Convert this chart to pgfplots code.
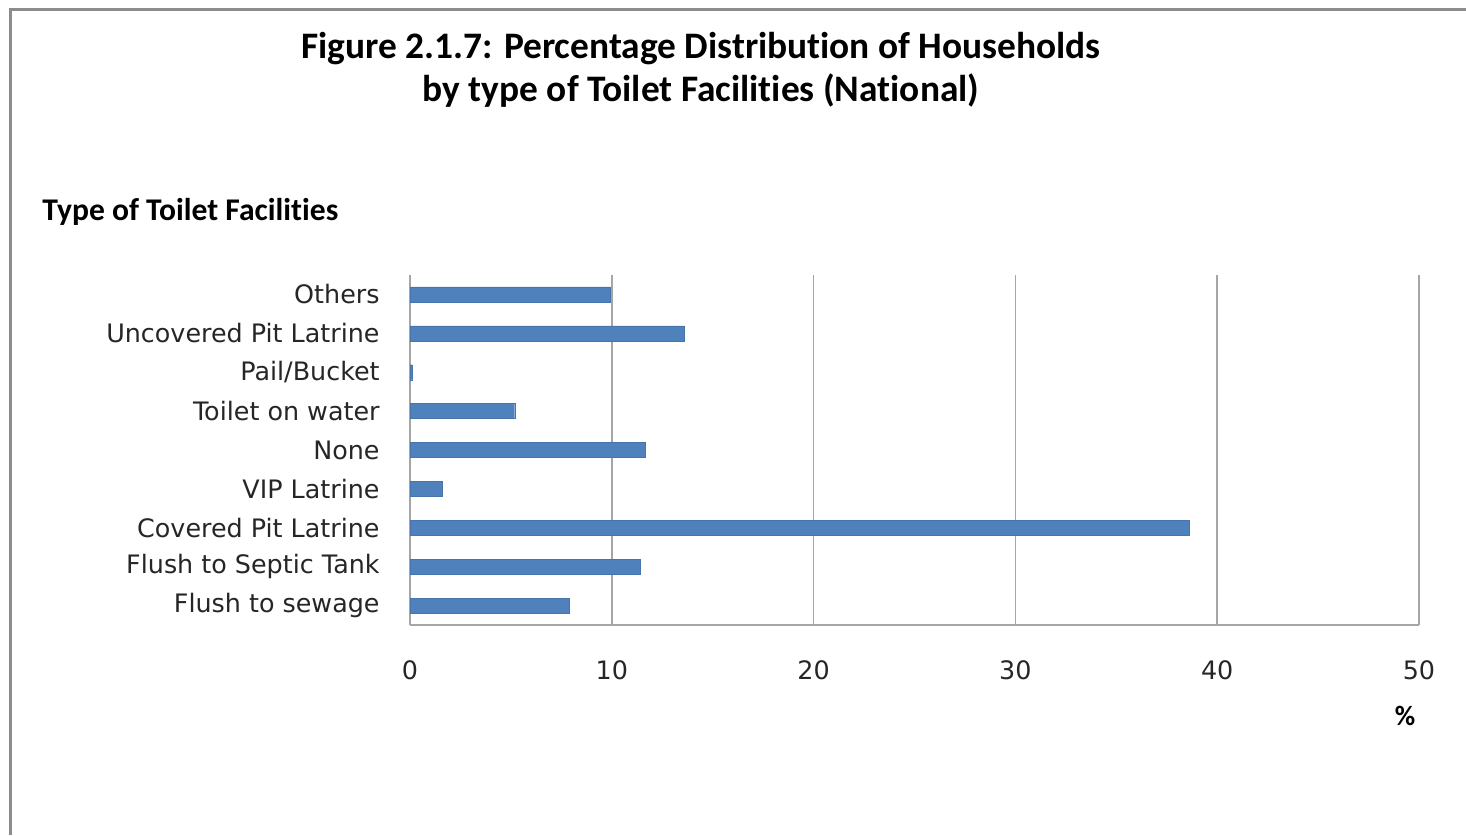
\documentclass[border=0pt]{standalone}
\usepackage{fontspec}
\setmainfont{Carlito}[Ligatures=NoCommon]
\newfontfamily\tickfont{DejaVu Sans}
\usepackage{pgfplots}
\pgfplotsset{compat=1.18}
\definecolor{barblue}{HTML}{4F81BD}
\definecolor{gridgray}{HTML}{A6A6A6}
\definecolor{framegray}{HTML}{8C8C8C}
\begin{document}
\begin{tikzpicture}
\path[use as bounding box] (0pt,0pt) rectangle (733pt,417.5pt);
\draw[framegray, line width=1.5pt] (5pt,0pt) -- (5pt,412.5pt) -- (733pt,412.5pt);
\node[font=\fontsize{18.7}{22}\selectfont\bfseries, anchor=center] at (350.5pt,393pt) {Figure 2.1.7: Percentage Distribution of Households};
\node[font=\fontsize{18.7}{22}\selectfont\bfseries, anchor=center] at (350.5pt,372.3pt) {by type of Toilet Facilities (National)};
\node[font=\fontsize{15.8}{18}\selectfont\bfseries, anchor=west, inner sep=0pt] at (21pt,311.5pt) {Type of Toilet Facilities};
\node[font=\fontsize{14}{16}\selectfont\bfseries, anchor=center, inner sep=0pt] at (702.5pt,59.5pt) {\%};
\begin{axis}[
  at={(205pt,105pt)}, anchor=south west,
  scale only axis, width=504.5pt, height=175pt,
  xmin=0, xmax=50, ymin=-0.5, ymax=8.5,
  xbar, bar width=7.5pt,
  axis x line*=bottom, axis y line*=left,
  axis line style={gridgray, line width=0.8pt, -},
  xtick={0,10,20,30,40,50},
  ytick={0,1,2,3,4,5,6,7,8},
  yticklabels={Flush to sewage, Flush to Septic Tank, Covered Pit Latrine, VIP Latrine, None, Toilet on water, Pail/Bucket, Uncovered Pit Latrine, Others},
  major tick length=0pt,
  xmajorgrids, major grid style={gridgray, line width=0.8pt},
  ticklabel style={font=\tickfont\fontsize{12.7}{15}\selectfont, text=black!85},
  /pgf/number format/assume math mode=true,
  xticklabel style={anchor=base, yshift=-27.5pt},
  yticklabel style={anchor=east, inner sep=0pt, xshift=-15pt},
  clip=false,
]
\addplot[fill=barblue, draw=barblue!90!black, line width=0.2pt] coordinates {
  (7.90,0) (11.41,1) (38.59,2) (1.60,3) (11.64,4) (5.19,5) (0.10,6) (13.57,7) (9.94,8)
};
\end{axis}
\end{tikzpicture}
\end{document}
